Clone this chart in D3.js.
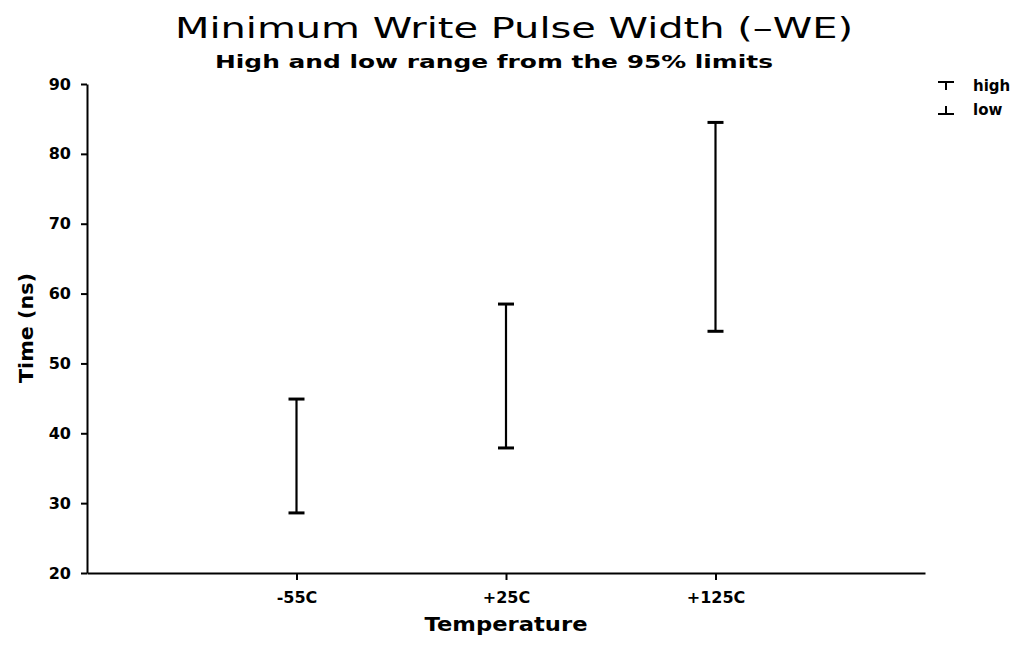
<!DOCTYPE html>
<html>
<head>
<meta charset="utf-8">
<script src="https://cdn.jsdelivr.net/npm/d3@7"></script>
<style>
  body { margin: 0; background: #fff; }
  .axis text { font-family: "DejaVu Sans", sans-serif; font-weight: bold; fill: #000; }
  .axis path, .axis line { stroke: #000; stroke-width: 2; }
</style>
</head>
<body>
<div id="chart"></div>
<script>
// data
var categories = ["-55C", "+25C", "+125C"];
var highValues = [44.9, 58.5, 84.5];
var lowValues  = [28.6, 37.9, 54.6];
var yTicks     = [20, 30, 40, 50, 60, 70, 80, 90];

var width  = 1017,
    height = 645;

var svg = d3.select("#chart")
    .append("svg")
    .attr("width", width)
    .attr("height", height);

var x = d3.scalePoint()
    .domain(categories)
    .range([87, 925])
    .padding(1);

var y = d3.scaleLinear()
    .domain([20, 90])
    .range([573, 84]);

// y axis
svg.append("g")
    .attr("class", "axis")
    .attr("transform", "translate(87,0)")
    .call(d3.axisLeft(y).tickValues(yTicks).tickSize(6).tickSizeOuter(0).tickPadding(10))
    .selectAll("text")
    .attr("font-size", "16px");

// x axis
svg.append("g")
    .attr("class", "axis")
    .attr("transform", "translate(0,573)")
    .call(d3.axisBottom(x).tickSize(7).tickSizeOuter(0).tickPadding(12))
    .selectAll("text")
    .attr("font-size", "16px");

// error bars
var bars = svg.selectAll(".bar")
    .data(categories)
    .enter()
    .append("g")
    .attr("class", "bar");

bars.append("line")
    .attr("x1", (d) => x(d)).attr("x2", (d) => x(d))
    .attr("y1", (d, i) => y(highValues[i]))
    .attr("y2", (d, i) => y(lowValues[i]))
    .attr("stroke", "#000")
    .attr("stroke-width", 2.2);

bars.append("line")
    .attr("x1", (d) => x(d) - 8).attr("x2", (d) => x(d) + 8)
    .attr("y1", (d, i) => y(highValues[i]))
    .attr("y2", (d, i) => y(highValues[i]))
    .attr("stroke", "#000")
    .attr("stroke-width", 3);

bars.append("line")
    .attr("x1", (d) => x(d) - 8).attr("x2", (d) => x(d) + 8)
    .attr("y1", (d, i) => y(lowValues[i]))
    .attr("y2", (d, i) => y(lowValues[i]))
    .attr("stroke", "#000")
    .attr("stroke-width", 3);

// titles
svg.append("text")
    .attr("x", 514).attr("y", 38)
    .attr("text-anchor", "middle")
    .attr("font-family", "DejaVu Sans, sans-serif")
    .attr("font-size", "28px")
    .attr("textLength", 678)
    .attr("lengthAdjust", "spacingAndGlyphs")
    .text("Minimum Write Pulse Width (\u2013WE)");

svg.append("text")
    .attr("x", 494).attr("y", 68)
    .attr("text-anchor", "middle")
    .attr("font-family", "DejaVu Sans, sans-serif")
    .attr("font-weight", "bold")
    .attr("font-size", "18px")
    .attr("textLength", 558)
    .attr("lengthAdjust", "spacingAndGlyphs")
    .text("High and low range from the 95% limits");

svg.append("text")
    .attr("x", 506).attr("y", 631)
    .attr("text-anchor", "middle")
    .attr("font-family", "DejaVu Sans, sans-serif")
    .attr("font-weight", "bold")
    .attr("font-size", "20px")
    .attr("textLength", 163)
    .attr("lengthAdjust", "spacingAndGlyphs")
    .text("Temperature");

svg.append("text")
    .attr("transform", "translate(33,328) rotate(-90)")
    .attr("text-anchor", "middle")
    .attr("font-family", "DejaVu Sans, sans-serif")
    .attr("font-weight", "bold")
    .attr("font-size", "20px")
    .attr("textLength", 110)
    .attr("lengthAdjust", "spacingAndGlyphs")
    .text("Time (ns)");

// legend
var legendItems = ["high", "low"];
var legend = svg.selectAll(".legend")
    .data(legendItems)
    .enter()
    .append("g")
    .attr("class", "legend")
    .attr("transform", (d, i) => "translate(946," + (91 + i * 24) + ")");

legend.append("line")
    .attr("x1", -8).attr("x2", 8)
    .attr("y1", (d) => d === "high" ? -9 : -1)
    .attr("y2", (d) => d === "high" ? -9 : -1)
    .attr("stroke", "#000").attr("stroke-width", 2);

legend.append("line")
    .attr("x1", 0).attr("x2", 0)
    .attr("y1", -9)
    .attr("y2", -1)
    .attr("stroke", "#000").attr("stroke-width", 2);

legend.append("text")
    .attr("x", 27).attr("y", 0)
    .attr("font-family", "DejaVu Sans, sans-serif")
    .attr("font-weight", "bold")
    .attr("font-size", "15px")
    .text((d) => d);
</script>
</body>
</html>
